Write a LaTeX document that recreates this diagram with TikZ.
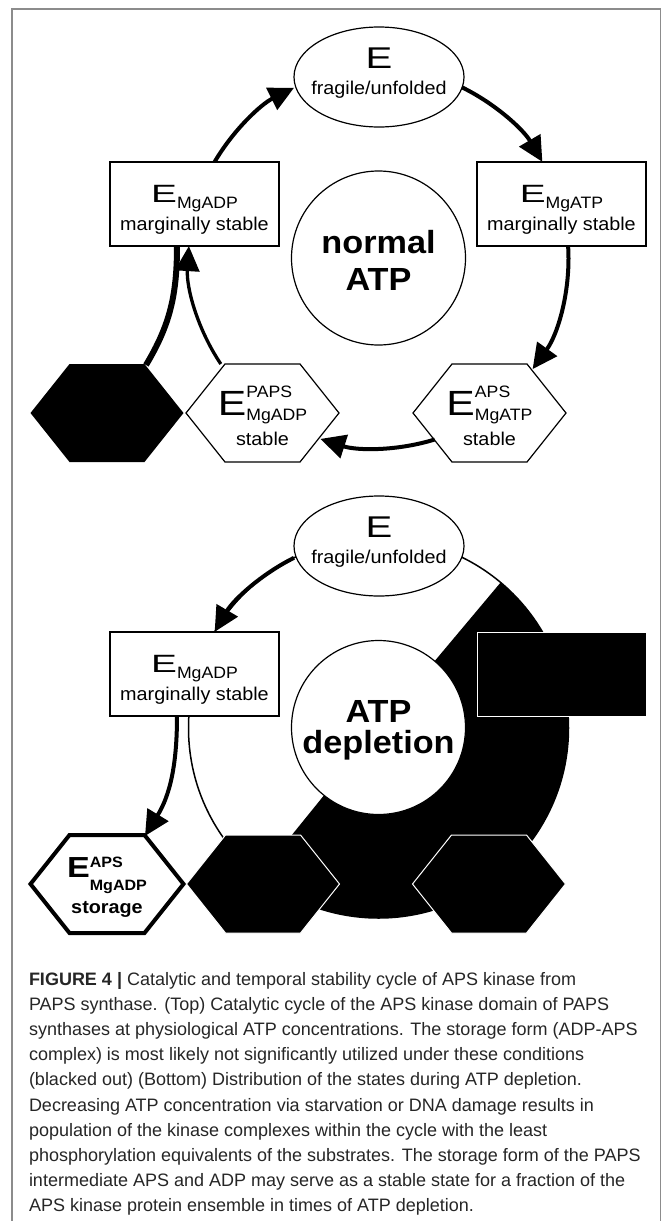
\documentclass[tikz,border=0pt]{standalone}
\usepackage{fontspec}
\setmainfont{Liberation Sans}
\newfontfamily\dg{Liberation Sans}[FakeStretch=1.07]
\usetikzlibrary{arrows.meta,calc,shapes.geometric}
\newcommand\EE[2]{\scalebox{#2}[1]{\fontsize{#1}{#1}\selectfont E}}
\newcommand\SubSup[5]{\rlap{\raisebox{#3}{\fontsize{#5}{#5}\selectfont #1}}\raisebox{-#4}{\fontsize{#5}{#5}\selectfont #2}}
\newcommand\hexat[2]{\path[#2] ($(#1)+(-76.5,0)$) -- ($(#1)+(-37.5,49)$) -- ($(#1)+(37.5,49)$) -- ($(#1)+(76.5,0)$) -- ($(#1)+(37.5,-49)$) -- ($(#1)+(-37.5,-49)$) -- cycle;}
\begin{document}
\begin{tikzpicture}[x=1pt,y=1pt,
  every node/.style={inner sep=0pt,outer sep=0pt},
  txt/.style={font=\dg\fontsize{18.5}{18.5}\selectfont, anchor=base},
  btxt/.style={font=\dg\bfseries\fontsize{32}{32}\selectfont, anchor=base},
  stxt/.style={font=\dg\bfseries\fontsize{18.5}{18.5}\selectfont, anchor=base},
  ellnode/.style={ellipse, draw, line width=1.2pt, fill=white, minimum width=170pt, minimum height=100pt},
  boxnode/.style={rectangle, draw, line width=1.4pt, fill=white, minimum width=169pt, minimum height=84pt},
  rnd/.style={circle, draw, line width=1.2pt, fill=white, minimum size=174pt},
  hexwhite/.style={draw, line width=1.2pt, fill=white},
  hexblack/.style={draw=white, line width=1pt, fill=black},
  arr/.style={line width=4pt, -{Triangle[length=25pt,width=24pt]}},
  captxt/.style={font=\fontsize{18}{18}\selectfont, anchor=base west, text=black!85}
]
\fill[white] (0,0) rectangle (663,-1221);
\useasboundingbox (0,0) rectangle (663,-1221);
% frame
\draw[black!45, line width=1.5pt] (12,-1221) -- (12,-9) -- (660.5,-9) -- (660.5,-1221);

% ================= TOP: normal ATP =================
\coordinate (C1) at (378.5,-258);
\node[ellnode] (e1) at (379,-77) {};
\node[boxnode] (lb1) at (194.5,-204) {};
\node[boxnode] (rb1) at (561.5,-204) {};
\node[rnd] (c1) at (378.5,-258) {};
\coordinate (hK) at (107,-413);
\coordinate (hP) at (262.5,-413);
\coordinate (hA) at (489.5,-413);
\hexat{hK}{fill=black}
\hexat{hP}{hexwhite}
\hexat{hA}{hexwhite}

\node[txt] (e1E) at (379,-68) {\EE{30}{1.25}};
\node[txt] (e1t) at (379,-94) {fragile/unfolded};
\node[txt] (lb1E) at (194.5,-202) {\EE{25}{1.45}\SubSup{}{MgADP}{0pt}{6pt}{16.5}};
\node[txt] (lb1t) at (194.5,-230) {marginally stable};
\node[txt] (rb1E) at (561.5,-202) {\EE{25}{1.45}\SubSup{}{MgATP}{0pt}{6pt}{16.5}};
\node[txt] (rb1t) at (561.5,-230) {marginally stable};
\node[btxt] (c1a) at (378.5,-253) {normal};
\node[btxt] (c1b) at (378.5,-290) {ATP};
\node[txt] (hPE) at (262.5,-415) {\EE{35}{1.14}\SubSup{PAPS}{MgADP}{18pt}{5pt}{16.5}};
\node[txt] (hPt) at (262.5,-445) {stable};
\node[txt] (hAE) at (489.5,-415) {\EE{35}{1.14}\SubSup{APS}{MgATP}{18pt}{5pt}{16.5}};
\node[txt] (hAt) at (489.5,-445) {stable};

\draw[arr] ($(C1)+(149.6:190)$) arc[start angle=149.6,end angle=116.4,radius=190];
\draw[arr] ($(C1)+(64:190)$) arc[start angle=64,end angle=30.4,radius=190];
\draw[arr] ($(C1)+(3.6:190)$) arc[start angle=3.6,end angle=-35.8,radius=190];
\draw[arr] ($(C1)+(-72.8:190)$) arc[start angle=-72.8,end angle=-107.8,radius=190];
\draw[arr, line width=3.3pt] ($(C1)+(213.9:190)$) arc[start angle=213.9,end angle=176.4,radius=190];
\draw[line width=6pt] ($(hK)+(39,48)$) .. controls (170,-325) and (177,-295) .. (lb1.south -| 177,0);

% ================= BOTTOM: ATP depletion =================
\coordinate (C2) at (378.5,-728);
\draw[line width=1.5pt] (C2) circle[radius=190];
\fill[black] (C2) -- ($(C2)+(-129:190)$) arc[start angle=-129,end angle=50,radius=190] -- cycle;
\node[ellnode] (e2) at (379,-546) {};
\node[boxnode] (lb2) at (194.5,-674) {};
\node[rectangle, fill=black, draw=white, line width=1pt, minimum width=169pt, minimum height=84pt] (rb2) at (561.5,-674) {};
\node[rnd] (c2) at (378.5,-727.5) {};
\coordinate (hS) at (107,-884);
\coordinate (hP2) at (263,-884);
\coordinate (hA2) at (489,-884);
\hexat{hS}{draw, line width=4pt, fill=white}
\hexat{hP2}{hexblack}
\hexat{hA2}{hexblack}

\node[txt] (e2E) at (379,-537) {\EE{30}{1.25}};
\node[txt] (e2t) at (379,-563) {fragile/unfolded};
\node[txt] (lb2E) at (194.5,-672) {\EE{25}{1.45}\SubSup{}{MgADP}{0pt}{6pt}{16.5}};
\node[txt] (lb2t) at (194.5,-700) {marginally stable};
\node[btxt] (c2a) at (378.5,-722) {ATP};
\node[btxt] (c2b) at (378.5,-753) {depletion};
\node[stxt] (hSE) at (107,-877) {\EE{29}{1.1}\SubSup{APS}{MgADP}{10pt}{13pt}{15}};
\node[stxt] (hSt) at (107,-913) {storage};

\draw[arr] ($(C2)+(116.4:190)$) arc[start angle=116.4,end angle=149.6,radius=190];
\draw[arr] (lb2.south -| 177,0) .. controls (177,-765) and (170,-795) .. ($(hS)+(38,48)$);

% ================= CAPTION =================
\foreach \t [count=\i] in {
 {\textbf{FIGURE 4 |} Catalytic and temporal stability cycle of APS kinase from},
 {PAPS synthase. (Top) Catalytic cycle of the APS kinase domain of PAPS},
 {synthases at physiological ATP concentrations. The storage form (ADP-APS},
 {complex) is most likely not significantly utilized under these conditions},
 {(blacked out) (Bottom) Distribution of the states during ATP depletion.},
 {Decreasing ATP concentration via starvation or DNA damage results in},
 {population of the kinase complexes within the cycle with the least},
 {phosphorylation equivalents of the substrates. The storage form of the PAPS},
 {intermediate APS and ADP may serve as a stable state for a fraction of the},
 {APS kinase protein ensemble in times of ATP depletion.}}
 \node[captxt] (cap\i) at (29,{-985-25.2*(\i-1)}) {\t};
\end{tikzpicture}
\end{document}
